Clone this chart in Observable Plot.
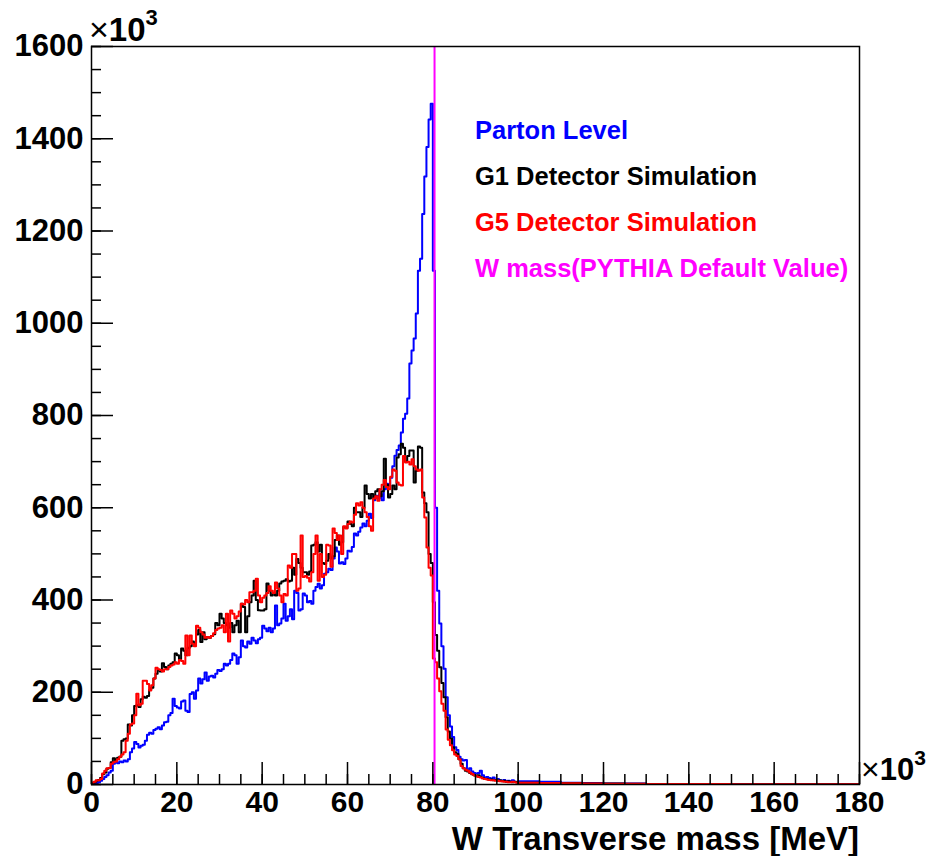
<!DOCTYPE html>
<html>
<head>
<meta charset="utf-8">
<script src="https://cdn.jsdelivr.net/npm/d3@7"></script>
<script src="https://cdn.jsdelivr.net/npm/@observablehq/plot@0.6"></script>
<style>
  html, body { margin: 0; padding: 0; background: white; }
  #chart { width: 930px; height: 856px; }
</style>
</head>
<body>
<div id="chart"></div>
<script>
// ---- Data (x in units of 10^3 MeV, y in units of 10^3 entries) ----
const fineBinStart = 0;
const fineBinWidth = 0.5;           // bins of 0.5 from 0 to 100
const tailBinEdges = [100,105,110,115,120,125,130,135,140,145,150,155,160,165,170,175,180];

const partonFine = [
  0,2,3,5,8, 12,16,20,26,30, 45,48,46,50,48, 52,50,55,70,78,
  92,88,80,84,86, 95,108,112,110,118, 121,124,120,128,135, 136,150,155,186,170,
  167,165,180,182,160, 157,196,200,186,204, 230,219,228,243,225, 234,236,232,240,248,
  246,250,262,258,262, 270,284,280,262,276, 312,300,297,310,305, 318,312,306,315,318,
  344,338,332,340,330, 338,388,345,349,360, 392,355,365,380,358, 420,415,377,380,414,
  410,395,398,392,420, 428,435,425,432,457, 460,468,465,490,514, 505,479,482,478,490,
  507,505,515,544,540, 548,557,566,560,572, 587,578,616,626,620, 630,616,640,652,648,
  665,690,713,725,735, 763,793,804,837,913, 941,967,1021,1114,1140, 1237,1318,1382,1442,1476,
  1114,600,420,349,300, 251,189,150,126,103, 81,75,60,55,52, 53,30,35,28,25,
  24,25,30,20,15, 16,14,12,15,10, 12,9,8,10,7, 8,6,9,6,5
];
const g1Fine = [
  3,5,8,10,14, 22,26,34,36,48, 57,52,58,60,95, 98,100,130,128,150,
  170,172,168,185,190, 188,192,205,210,230, 240,248,245,263,255, 250,258,262,265,284,
  280,270,295,290,280, 296,300,310,305,325, 335,309,330,315,320, 318,322,326,350,345,
  370,360,350,345,340, 350,330,345,355,330, 392,385,330,365,395, 410,442,400,378,377,
  377,380,436,420,410, 415,410,420,436,440, 442,445,440,442,470, 455,489,480,470,460,
  460,455,462,518,520, 525,505,520,480,478, 485,500,490,495,530, 540,520,525,558,556,
  570,565,560,600,590, 590,580,600,648,630, 620,630,620,636,640, 625,636,706,650,622,
  630,648,640,709,716, 739,730,700,712,724, 724,655,680,733,730, 633,610,590,500,480,
  395,324,290,254,220, 189,146,115,100,81, 70,66,55,45,35, 30,28,25,22,20,
  18,20,16,14,12, 12,10,11,9,10, 8,9,7,8,6, 7,6,5,6,5
];
const g5Fine = [
  4,6,9,9,12, 24,30,35,36,45, 48,50,55,60,65, 70,95,110,130,132,
  150,197,172,175,225, 225,218,204,215,230, 253,250,248,245,250, 250,255,258,260,265,
  262,270,268,262,323, 280,323,305,300,344, 340,330,325,318,320, 318,322,328,335,338,
  340,345,330,370,310, 377,370,360,365,375, 392,390,400,395,417, 417,420,446,410,395,
  405,410,415,430,420, 415,438,425,410,395, 413,410,475,470,500, 500,420,425,540,450,
  452,448,440,460,500, 540,442,500,450,455, 520,518,472,555,545, 530,540,500,560,555,
  565,570,568,585,610, 605,612,600,590,580, 560,550,620,625,615, 640,650,660,645,640,
  667,683,680,655,650, 648,712,698,700,694, 705,690,683,680,683, 622,579,514,470,453,
  273,265,230,202,175, 160,119,97,85,74, 65,62,55,40,35, 32,30,26,23,20,
  18,16,15,13,12, 11,10,9,9,8, 8,7,7,6,6, 5,5,6,5,4
];
const partonTail = [7,6,4,3,2,2,1,1,1,1,1,0.5,0.5,0.5,0.5,0.5];
const g1Tail     = [4,3,3,2,2,1.5,1,1,1,1,0.8,0.8,0.5,0.5,0.5,0.5];
const g5Tail     = [4,3,2.5,2,1.5,1.5,1,1,1,1,0.8,0.8,0.8,0.5,0.5,0.5];

const wMass = [80.4];

const seriesNames  = ["Parton Level", "G1 Detector Simulation", "G5 Detector Simulation"];
const seriesColors = ["#0000ff", "#000000", "#ff0000"];
const wMassLabel = "W mass(PYTHIA Default Value)";
const wMassColor = "#ff00ff";

const xMajorTicks = d3.range(0, 181, 20);
const xMinorTicks = d3.range(0, 181, 5);
const yMajorTicks = d3.range(0, 1601, 200);
const yMinorTicks = d3.range(0, 1601, 50);
const xTitle = "W Transverse mass [MeV]";

// ---- Build step outlines ----
function buildSteps(name, fine, tail) {
  const pts = [];
  fine.forEach((v, i) => pts.push({series: name, x: fineBinStart + i * fineBinWidth, y: v}));
  tail.forEach((v, i) => pts.push({series: name, x: tailBinEdges[i], y: v}));
  pts.push({series: name, x: tailBinEdges[tailBinEdges.length - 1], y: tail[tail.length - 1]});
  return pts;
}
const parton = buildSteps(seriesNames[0], partonFine, partonTail);
const g1 = buildSteps(seriesNames[1], g1Fine, g1Tail);
const g5 = buildSteps(seriesNames[2], g5Fine, g5Tail);

const FONT = "'Liberation Sans', Arial, Helvetica, sans-serif";

const chart = Plot.plot({
  width: 930,
  height: 856,
  marginLeft: 91,
  marginRight: 71,
  marginTop: 46,
  marginBottom: 72,
  style: {fontFamily: FONT, fontWeight: "bold", fontSize: "31px", background: "white", color: "black"},
  x: {domain: [0, 180]},
  y: {domain: [0, 1600]},
  marks: [
    Plot.line(parton, {x: "x", y: "y", curve: "step-after", stroke: seriesColors[0], strokeWidth: 2, clip: true}),
    Plot.line(g1, {x: "x", y: "y", curve: "step-after", stroke: seriesColors[1], strokeWidth: 2, clip: true}),
    Plot.line(g5, {x: "x", y: "y", curve: "step-after", stroke: seriesColors[2], strokeWidth: 2, clip: true}),
    Plot.ruleX(wMass, {stroke: wMassColor, strokeWidth: 2}),
    // ticks drawn inward (ROOT style)
    Plot.axisX({anchor: "bottom", ticks: xMinorTicks, tickSize: -10, fill: "none", label: null, strokeWidth: 1.5}),
    Plot.axisX({anchor: "bottom", ticks: xMajorTicks, tickSize: -22, fill: "none", label: null, strokeWidth: 1.5}),
    Plot.axisY({anchor: "left", ticks: yMinorTicks, tickSize: -10, fill: "none", label: null, strokeWidth: 1.5}),
    Plot.axisY({anchor: "left", ticks: yMajorTicks, tickSize: -22, fill: "none", label: null, strokeWidth: 1.5}),
    // labels
    Plot.axisX({anchor: "bottom", ticks: xMajorTicks, tickSize: 0, tickPadding: 6, label: null,
                tickFormat: d3.format("d"), fontSize: 30, fontWeight: "bold", fontFamily: FONT}),
    Plot.axisY({anchor: "left", ticks: yMajorTicks, tickSize: 0, tickPadding: 8, label: null,
                tickFormat: d3.format("d"), fontSize: 31, fontWeight: "bold", fontFamily: FONT}),
    Plot.frame({stroke: "black", strokeWidth: 1.5})
  ]
});

document.getElementById("chart").appendChild(chart);

// ---- Extra texts: exponents, axis title, legend ----
const svg = d3.select(chart);
function exponent(x, y, size) {
  const t = svg.append("text").attr("x", x).attr("y", y).attr("text-anchor", "start")
    .attr("font-family", FONT).attr("fill", "black");
  t.append("tspan").attr("font-size", size + 1).attr("font-weight", "normal").text("\u00d7");
  t.append("tspan").attr("font-size", size).attr("font-weight", "bold").text("10");
  t.append("tspan").attr("font-size", Math.round(size * 0.67)).attr("font-weight", "bold")
    .attr("dy", -Math.round(size * 0.48)).text("3");
}
exponent(89, 41, 33);
exponent(861, 780, 31);

svg.append("text").attr("x", 859).attr("y", 850).attr("text-anchor", "end")
  .attr("font-family", FONT).attr("font-weight", "bold").attr("font-size", 33)
  .attr("fill", "black").text(xTitle);

const legendLabels = [...seriesNames, wMassLabel];
const legendColors = [...seriesColors, wMassColor];
const legendBaselines = [139, 185, 231, 277];
legendLabels.forEach((lab, i) => {
  svg.append("text").attr("x", 475).attr("y", legendBaselines[i]).attr("text-anchor", "start")
    .attr("font-family", FONT).attr("font-weight", "bold").attr("font-size", 25.5)
    .attr("fill", legendColors[i]).text(lab);
});
</script>
</body>
</html>
